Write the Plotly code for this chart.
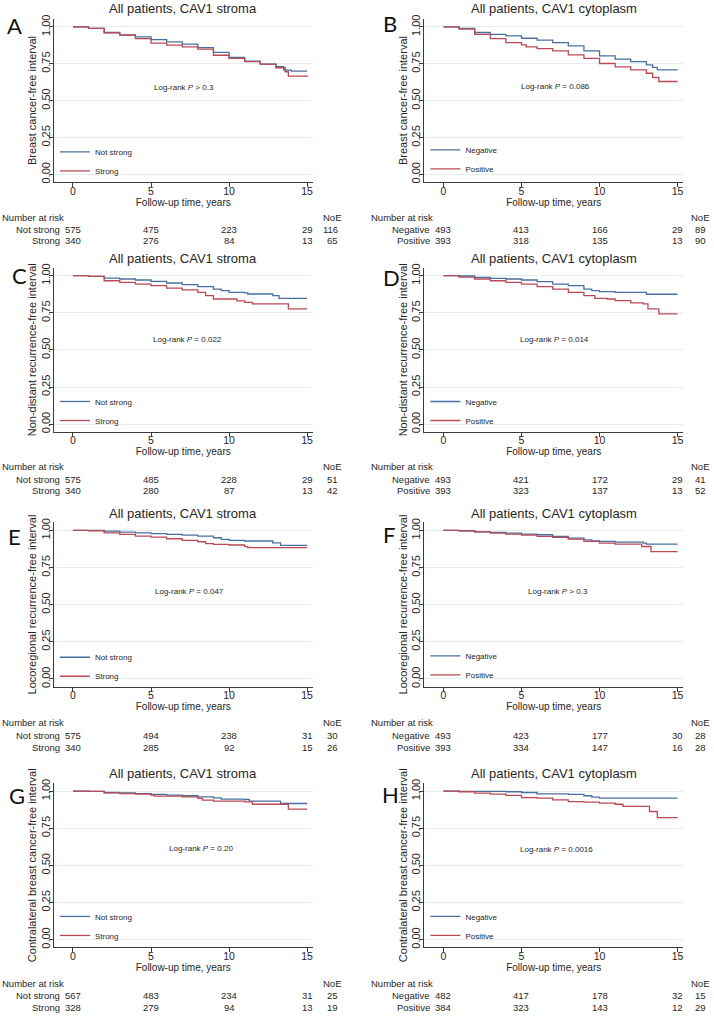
import plotly.graph_objects as go

W, H = 714, 1017

# ---------------- data ----------------
x_tick_vals = [0, 5, 10, 15]
y_tick_vals = [0, 0.25, 0.5, 0.75, 1.0]
risk_times = [0, 5, 10, 15]

panel_letters = ["A", "B", "C", "D", "E", "F", "G", "H"]
panel_titles = ["All patients, CAV1 stroma", "All patients, CAV1 cytoplasm"] * 4
y_titles = ["Breast cancer-free interval", "Breast cancer-free interval",
            "Non-distant recurrence-free interval", "Non-distant recurrence-free interval",
            "Locoregional recurrence-free interval", "Locoregional recurrence-free interval",
            "Contralateral breast cancer-free interval", "Contralateral breast cancer-free interval"]
stroma_groups = ["Not strong", "Strong"]
cyto_groups = ["Negative", "Positive"]
logrank_p = ["> 0.3", "= 0.086", "= 0.022", "= 0.014", "= 0.047", "> 0.3", "= 0.20", "= 0.0016"]

# A: BCFI, stroma
A1_t = [0, 1, 2, 3, 4, 5, 6, 7, 8, 9, 10, 11, 12, 13, 13.5, 14, 15]
A1_s = [1.0, 0.99, 0.962, 0.944, 0.932, 0.914, 0.899, 0.883, 0.86, 0.827, 0.793, 0.768, 0.748, 0.73, 0.707, 0.70, 0.70]
A2_t = [0, 1, 2, 3, 4, 5, 6, 7, 8, 9, 10, 11, 12, 13, 13.6, 13.8, 15]
A2_s = [1.0, 0.99, 0.96, 0.945, 0.92, 0.89, 0.876, 0.865, 0.849, 0.808, 0.786, 0.764, 0.748, 0.723, 0.696, 0.667, 0.66]
A1_risk = [575, 475, 223, 29]; A1_noe = 116
A2_risk = [340, 276, 84, 13]; A2_noe = 65

# B: BCFI, cytoplasm
B1_t = [0, 1, 2, 3, 4, 5, 6, 7, 8, 9, 10, 11, 12, 13, 13.4, 13.7, 15]
B1_s = [1.0, 0.99, 0.962, 0.95, 0.939, 0.923, 0.91, 0.894, 0.871, 0.837, 0.804, 0.781, 0.765, 0.743, 0.725, 0.709, 0.709]
B2_t = [0, 1, 2, 3, 4, 5, 5.3, 6, 7, 8, 9, 10, 11, 12, 13, 13.4, 13.8, 15]
B2_s = [1.0, 0.985, 0.95, 0.921, 0.894, 0.878, 0.865, 0.853, 0.837, 0.81, 0.786, 0.752, 0.729, 0.709, 0.686, 0.657, 0.63, 0.63]
B1_risk = [493, 413, 166, 29]; B1_noe = 89
B2_risk = [393, 318, 135, 13]; B2_noe = 90

# C: non-distant recurrence-free, stroma
C1_t = [0, 1, 2, 3, 4, 5, 6, 7, 8, 9, 9.5, 10, 11, 11.2, 12.8, 13.2, 15]
C1_s = [1.0, 0.996, 0.984, 0.978, 0.971, 0.962, 0.951, 0.94, 0.926, 0.91, 0.9, 0.888, 0.884, 0.877, 0.866, 0.848, 0.848]
C2_t = [0, 1, 2, 3, 4, 5, 6, 7, 8, 8.5, 9, 10.5, 11, 11.5, 13.8, 15]
C2_s = [1.0, 0.995, 0.966, 0.955, 0.944, 0.933, 0.917, 0.904, 0.888, 0.866, 0.843, 0.83, 0.821, 0.81, 0.776, 0.776]
C1_risk = [575, 485, 228, 29]; C1_noe = 51
C2_risk = [340, 280, 87, 13]; C2_noe = 42

# D: non-distant recurrence-free, cytoplasm
D1_t = [0, 1, 2, 3, 4, 5, 6, 7, 8, 9, 9.5, 10, 11, 13, 15]
D1_s = [1.0, 0.998, 0.989, 0.982, 0.978, 0.971, 0.96, 0.944, 0.933, 0.91, 0.9, 0.893, 0.888, 0.875, 0.875]
D2_t = [0, 1, 2, 3, 4, 5, 6, 7, 8, 9, 9.7, 10.5, 11, 12, 12.8, 13.1, 13.8, 15]
D2_s = [1.0, 0.99, 0.978, 0.966, 0.955, 0.944, 0.926, 0.91, 0.888, 0.866, 0.848, 0.843, 0.832, 0.817, 0.81, 0.776, 0.743, 0.743]
D1_risk = [493, 421, 172, 29]; D1_noe = 41
D2_risk = [393, 323, 137, 13]; D2_noe = 52

# E: locoregional recurrence-free, stroma
E1_t = [0, 2, 3, 4, 5, 6, 7, 8, 9, 9.5, 10, 11, 12.8, 13.3, 15]
E1_s = [1.0, 0.996, 0.989, 0.984, 0.978, 0.973, 0.969, 0.962, 0.951, 0.94, 0.933, 0.929, 0.917, 0.9, 0.9]
E2_t = [0, 1, 2, 3, 4, 5, 6, 7, 8, 8.5, 9, 10, 11, 11.2, 15]
E2_s = [1.0, 0.998, 0.984, 0.973, 0.962, 0.955, 0.944, 0.933, 0.924, 0.911, 0.906, 0.902, 0.891, 0.884, 0.884]
E1_risk = [575, 494, 238, 31]; E1_noe = 30
E2_risk = [340, 285, 92, 15]; E2_noe = 26

# F: locoregional recurrence-free, cytoplasm
F1_t = [0, 1, 2, 3, 4, 5, 6, 7, 8, 9, 9.5, 10, 11, 12.8, 13, 15]
F1_s = [1.0, 0.998, 0.991, 0.987, 0.982, 0.975, 0.971, 0.96, 0.948, 0.937, 0.93, 0.926, 0.921, 0.915, 0.908, 0.908]
F2_t = [0, 1, 2, 3, 4, 5, 6, 7, 8, 9, 10, 11, 12.7, 13.3, 15]
F2_s = [1.0, 0.997, 0.991, 0.982, 0.975, 0.969, 0.96, 0.953, 0.942, 0.926, 0.915, 0.908, 0.892, 0.858, 0.858]
F1_risk = [493, 423, 177, 30]; F1_noe = 28
F2_risk = [393, 334, 147, 16]; F2_noe = 28

# G: contralateral breast cancer-free, stroma
G1_t = [0, 1, 2, 3, 4, 5, 6, 7, 8, 9, 9.5, 11, 11.3, 13.3, 15]
G1_s = [1.0, 0.998, 0.991, 0.989, 0.984, 0.978, 0.973, 0.969, 0.962, 0.955, 0.946, 0.944, 0.933, 0.917, 0.917]
G2_t = [0, 1, 2, 3, 4, 5, 5.2, 7, 8, 8.3, 9, 11, 11.5, 13.8, 15]
G2_s = [1.0, 0.998, 0.989, 0.984, 0.98, 0.973, 0.966, 0.962, 0.951, 0.94, 0.933, 0.928, 0.912, 0.879, 0.879]
G1_risk = [567, 483, 234, 31]; G1_noe = 25
G2_risk = [328, 279, 94, 13]; G2_noe = 19

# H: contralateral breast cancer-free, cytoplasm
H1_t = [0, 1, 4, 5, 6, 8, 9, 9.5, 10, 15]
H1_s = [1.0, 0.998, 0.996, 0.991, 0.982, 0.978, 0.969, 0.96, 0.953, 0.953]
H2_t = [0, 1, 2, 3, 4, 5, 6, 7, 8, 9, 10, 11, 11.5, 13.2, 13.7, 15]
H2_s = [1.0, 0.996, 0.987, 0.98, 0.971, 0.957, 0.953, 0.942, 0.93, 0.926, 0.919, 0.912, 0.897, 0.863, 0.822, 0.822]
H1_risk = [482, 417, 178, 32]; H1_noe = 15
H2_risk = [384, 323, 143, 12]; H2_noe = 29

series = [
    ((A1_t, A1_s, A1_risk, A1_noe), (A2_t, A2_s, A2_risk, A2_noe)),
    ((B1_t, B1_s, B1_risk, B1_noe), (B2_t, B2_s, B2_risk, B2_noe)),
    ((C1_t, C1_s, C1_risk, C1_noe), (C2_t, C2_s, C2_risk, C2_noe)),
    ((D1_t, D1_s, D1_risk, D1_noe), (D2_t, D2_s, D2_risk, D2_noe)),
    ((E1_t, E1_s, E1_risk, E1_noe), (E2_t, E2_s, E2_risk, E2_noe)),
    ((F1_t, F1_s, F1_risk, F1_noe), (F2_t, F2_s, F2_risk, F2_noe)),
    ((G1_t, G1_s, G1_risk, G1_noe), (G2_t, G2_s, G2_risk, G2_noe)),
    ((H1_t, H1_s, H1_risk, H1_noe), (H2_t, H2_s, H2_risk, H2_noe)),
]

# ---------------- styling / layout geometry (pixels) ----------------
BLUE = "#48709e"
RED = "#b94a55"
GRID = "#e4eef0"
AXIS = "#3a3a3a"
TXT = "#262626"
SANS = "Liberation Sans, Arial, sans-serif"
LETTER_FONT = "Lato, Open Sans, sans-serif"

col_px = [(54, 313), (425, 684)]
row_px = [(15, 179), (265, 430), (521, 686), (783, 948)]
title_px = [5, 256, 512.5, 773.5]
risk_px = [(215, 227, 238), (465, 478, 488.7), (722, 735.3, 747.3), (984, 996.7, 1008.7)]
nar_x_px = [0, 370]
noe_hdr_px = [332.5, 701]
noe_val_px = [340, 708.5]
letter_pos = [(14.5, 21.5), (391, 20), (19.5, 273), (392, 275),
              (15, 535), (390, 533), (17, 795), (391, 794)]
logrank_pos = [(7.1, 0.59), (7.18, 0.598), (7.31, 0.567), (7.14, 0.572),
               (7.48, 0.587), (7.37, 0.587), (8.18, 0.611), (7.22, 0.604)]
legend_mid_px = [158.2, 156.2, 409, 409, 666, 664.7, 926.5, 926.5]
legend_left_px = [55, 426]

X_RANGE = [-1.22, 15.35]
Y_RANGE = [-0.052, 1.054]


def px_x(p):
    return p / W


def px_y(p):
    return 1 - p / H


fig = go.Figure()
annotations = []
layout = dict(
    width=W, height=H, autosize=False,
    margin=dict(l=0, r=0, t=0, b=0),
    paper_bgcolor="white", plot_bgcolor="white",
    font=dict(family=SANS, color=TXT),
)

for i in range(8):
    row, col = divmod(i, 2)
    k = i + 1
    xa = "x" if k == 1 else f"x{k}"
    ya = "y" if k == 1 else f"y{k}"
    xkey = "xaxis" if k == 1 else f"xaxis{k}"
    ykey = "yaxis" if k == 1 else f"yaxis{k}"
    lgkey = "legend" if k == 1 else f"legend{k}"
    groups = stroma_groups if col == 0 else cyto_groups
    x0, x1 = col_px[col]
    top, bot = row_px[row]

    for (t, s, risk, noe), name, color in zip(series[i], groups, [BLUE, RED]):
        fig.add_trace(go.Scatter(
            x=t, y=s, mode="lines", name=name,
            line=dict(color=color, width=1.3, shape="hv"),
            xaxis=xa, yaxis=ya, legend=lgkey, hoverinfo="skip",
        ))

    layout[xkey] = dict(
        domain=[px_x(x0), px_x(x1)], anchor=ya, range=X_RANGE,
        tickvals=x_tick_vals, ticks="outside", ticklen=4, tickcolor=AXIS,
        ticklabelstandoff=-5,
        showline=True, linecolor=AXIS, linewidth=1, showgrid=False, zeroline=False,
        tickfont=dict(family=SANS, size=10.5, color=TXT),
        title=dict(text="Follow-up time, years", font=dict(family=SANS, size=10, color=TXT), standoff=0),
    )
    layout[ykey] = dict(
        domain=[px_y(bot), px_y(top)], anchor=xa, range=Y_RANGE,
        tickvals=y_tick_vals, tickformat=".2f", tickangle=-90,
        ticks="outside", ticklen=4, tickcolor=AXIS, ticklabelstandoff=-5,
        showline=True, linecolor=AXIS, linewidth=1,
        showgrid=True, gridcolor=GRID, gridwidth=1, zeroline=False,
        tickfont=dict(family=SANS, size=11, color=TXT),
        title=dict(text=y_titles[i], font=dict(family=SANS, size=11, color=TXT), standoff=0),
    )
    layout[lgkey] = dict(
        x=px_x(legend_left_px[col]), xanchor="left",
        y=px_y(legend_mid_px[i]), yanchor="middle",
        bgcolor="rgba(0,0,0,0)", borderwidth=0,
        font=dict(family=SANS, size=8, color=TXT),
        itemwidth=30, tracegroupgap=0,
    )

    # panel title
    annotations.append(dict(
        text=panel_titles[i], xref="paper", yref="paper",
        x=px_x((x0 + x1) / 2), y=px_y(title_px[row]),
        xanchor="center", yanchor="middle", showarrow=False,
        font=dict(family=SANS, size=13, color=TXT),
    ))
    # panel letter
    lx, ly = letter_pos[i]
    annotations.append(dict(
        text=panel_letters[i], xref="paper", yref="paper",
        x=px_x(lx), y=px_y(ly), xanchor="center", yanchor="middle",
        showarrow=False, font=dict(family=LETTER_FONT, size=22, color="#111111"),
    ))
    # log-rank
    lrx, lry = logrank_pos[i]
    annotations.append(dict(
        text=f"Log-rank <i>P</i> {logrank_p[i]}", xref=xa, yref=ya,
        x=lrx, y=lry, xanchor="center", yanchor="middle", showarrow=False,
        font=dict(family=SANS, size=8, color=TXT),
    ))
    # risk table
    hdr, r1, r2 = risk_px[row]
    annotations.append(dict(
        text="Number at risk", xref="paper", yref="paper",
        x=px_x(nar_x_px[col]), y=px_y(hdr), xanchor="left", yanchor="middle",
        showarrow=False, font=dict(family=SANS, size=9.5, color=TXT),
    ))
    annotations.append(dict(
        text="NoE", xref="paper", yref="paper", x=px_x(noe_hdr_px[col]), y=px_y(hdr),
        xanchor="center", yanchor="middle", showarrow=False,
        font=dict(family=SANS, size=9.5, color=TXT),
    ))
    for (t, s, risk, noe), name, ry in zip(series[i], groups, [r1, r2]):
        annotations.append(dict(
            text=name, xref=xa, yref="paper", x=-0.73, y=px_y(ry),
            xanchor="right", yanchor="middle", showarrow=False,
            font=dict(family=SANS, size=9.5, color=TXT),
        ))
        for tt, n in zip(risk_times, risk):
            annotations.append(dict(
                text=str(n), xref=xa, yref="paper", x=tt, y=px_y(ry),
                xanchor="center", yanchor="middle", showarrow=False,
                font=dict(family=SANS, size=9.5, color=TXT),
            ))
        annotations.append(dict(
            text=str(noe), xref="paper", yref="paper", x=px_x(noe_val_px[col]), y=px_y(ry),
            xanchor="right", yanchor="middle", showarrow=False,
            font=dict(family=SANS, size=9.5, color=TXT),
        ))

layout["annotations"] = annotations
layout["showlegend"] = True
fig.update_layout(**layout)
fig.write_html(
    "out.html",
    config={"displayModeBar": False},
    post_script="document.body.style.margin='0';document.body.style.padding='0';",
)
